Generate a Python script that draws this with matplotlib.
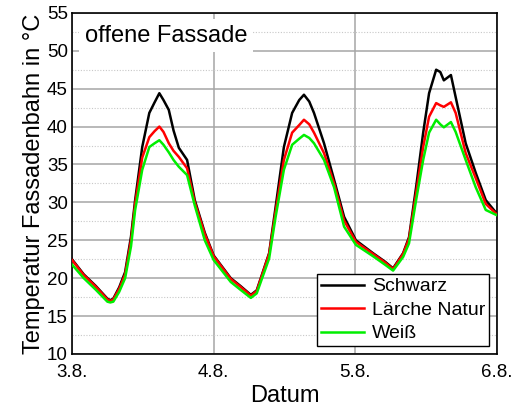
import matplotlib.pyplot as plt
from matplotlib.ticker import MultipleLocator

plt.rcParams['font.family'] = ['Liberation Sans', 'DejaVu Sans']

# Stunden ab 3.8. 00:00
hours = [0, 2, 4, 6, 6.5, 7, 8, 9, 10, 10.7, 11.9, 13.1, 14, 14.8, 15.5, 16.4,
         17.2, 18.1, 19.5, 20.8, 22.5, 24, 26.9, 28.5, 30.3, 31.3, 33.4, 34.5,
         35.9, 37.3, 38.5, 39.3, 40.2, 41.0, 42.7, 44.4, 46.1, 48.1, 51, 53,
         54.4, 56.1, 57.1, 58.3, 59.5, 60.5, 61.7, 62.4, 63.0, 64.2, 65.0,
         66.7, 68.4, 70.1, 72]

schwarz = [22.5, 20.5, 19.0, 17.3, 17.1, 17.3, 18.8, 20.8, 25.5, 30.3, 37.3,
           41.8, 43.2, 44.4, 43.5, 42.2, 39.5, 37.2, 35.6, 30.3, 26.0, 23.0,
           20.0, 19.0, 17.8, 18.4, 23.3, 29.4, 37.3, 41.8, 43.5, 44.2, 43.3,
           41.8, 37.8, 33.0, 28.1, 25.0, 23.3, 22.2, 21.3, 23.3, 25.4, 32.0,
           39.2, 44.4, 47.5, 47.2, 46.1, 46.8, 43.9, 37.8, 33.9, 30.3, 28.5]

laerche = [22.4, 20.4, 18.9, 17.2, 17.0, 17.2, 18.6, 20.5, 25.0, 29.8, 35.9,
           38.6, 39.4, 40.0, 39.3, 37.8, 36.8, 36.0, 34.5, 30.0, 25.8, 22.9,
           19.9, 18.9, 17.7, 18.3, 23.2, 28.8, 35.6, 39.2, 40.2, 40.9, 40.3,
           39.2, 36.5, 32.5, 27.6, 24.8, 23.2, 22.1, 21.2, 23.2, 25.2, 31.2,
           37.3, 41.3, 43.1, 42.8, 42.6, 43.2, 41.8, 36.5, 33.2, 29.8, 28.4]

weiss = [21.8, 20.0, 18.5, 16.9, 16.8, 16.9, 18.2, 20.0, 24.2, 29.0, 34.3,
         37.3, 37.8, 38.2, 37.6, 36.6, 35.6, 34.7, 33.6, 29.6, 25.0, 22.4,
         19.5, 18.5, 17.4, 18.0, 22.6, 28.1, 34.3, 37.6, 38.4, 38.9, 38.5,
         37.8, 35.6, 32.0, 26.8, 24.4, 22.9, 21.8, 21.0, 22.8, 24.6, 30.3,
         35.6, 39.2, 40.9, 40.3, 39.9, 40.6, 39.3, 35.6, 32.0, 29.0, 28.3]

day_ticks = [0, 24, 48, 72]
day_labels = ['3.8.', '4.8.', '5.8.', '6.8.']

fig = plt.figure(figsize=(5.27, 4.15), dpi=100)
ax = fig.add_axes([0.1366, 0.147, 0.8064, 0.822])

ax.plot(hours, schwarz, color='black', lw=1.8, label='Schwarz', zorder=3)
ax.plot(hours, laerche, color='#ff0000', lw=1.8, label='Lärche Natur', zorder=4)
ax.plot(hours, weiss, color='#00ee00', lw=1.8, label='Weiß', zorder=5)

ax.set_xlim(0, 72)
ax.set_ylim(10, 55)
ax.set_xticks(day_ticks)
ax.set_xticklabels(day_labels)
ax.yaxis.set_major_locator(MultipleLocator(5))
ax.yaxis.set_minor_locator(MultipleLocator(2.5))

ax.grid(True, which='major', axis='both', color='#a6a6a6', lw=1.1, zorder=0)
ax.grid(True, which='minor', axis='y', color='#c8c8c8', lw=0.8,
        linestyle=(0, (1, 1.5)), zorder=0)
ax.set_axisbelow(True)

ax.tick_params(axis='both', which='both', length=0, labelsize=13.5, pad=3)
ax.tick_params(axis='x', pad=7)
for s in ax.spines.values():
    s.set_linewidth(1.2)
    s.set_color('black')

ax.set_xlabel('Datum', fontsize=17, labelpad=3)
ax.set_ylabel('Temperatur Fassadenbahn in °C', fontsize=17, labelpad=1)

ax.text(2.2, 52.0, 'offene Fassade', fontsize=17, va='center', ha='left',
        bbox=dict(facecolor='white', edgecolor='none', pad=4), zorder=6)

leg = ax.legend(loc='lower right', fontsize=14, frameon=True, fancybox=False,
                framealpha=1, edgecolor='black', borderpad=0.2,
                handlelength=2.2, handletextpad=0.4, labelspacing=0.3,
                borderaxespad=0.4)
leg.get_frame().set_linewidth(1.0)
leg.set_zorder(7)

fig.savefig('out.png', dpi=100)
